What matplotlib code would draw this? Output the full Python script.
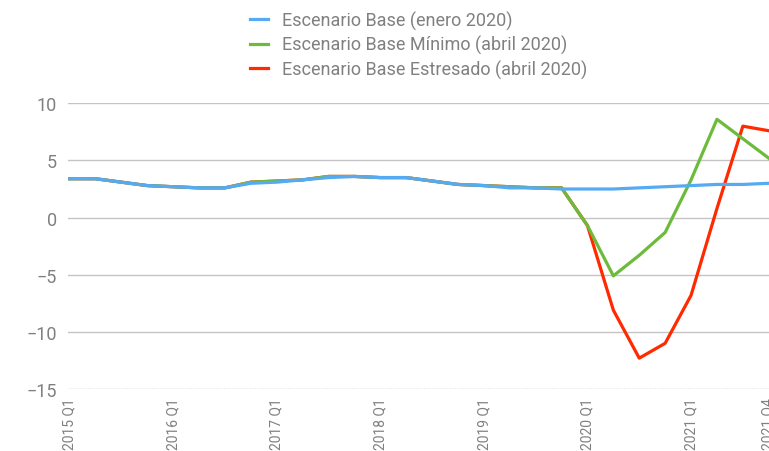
import matplotlib.pyplot as plt
import numpy as np

plt.rcParams['font.family'] = ['Roboto', 'DejaVu Sans']

# trimestres 2015 Q1 .. 2021 Q4
quarters = [f'{y} Q{q}' for y in range(2015, 2022) for q in range(1, 5)]

base_enero = [3.4, 3.4, 3.1, 2.8,
              2.7, 2.6, 2.6, 3.0,
              3.1, 3.3, 3.5, 3.6,
              3.5, 3.5, 3.2, 2.9,
              2.8, 2.6, 2.6, 2.5,
              2.5, 2.5, 2.6, 2.7,
              2.8, 2.9, 2.9, 3.0]
base_minimo = [3.4, 3.4, 3.1, 2.8,
               2.7, 2.6, 2.6, 3.1,
               3.2, 3.3, 3.6, 3.6,
               3.5, 3.5, 3.2, 2.9,
               2.8, 2.7, 2.6, 2.6,
               -0.7, -5.1, -3.3, -1.3,
               3.3, 8.6, 6.9, 5.2]
base_estresado = [3.4, 3.4, 3.1, 2.8,
                  2.7, 2.6, 2.6, 3.1,
                  3.2, 3.3, 3.6, 3.6,
                  3.5, 3.5, 3.2, 2.9,
                  2.8, 2.7, 2.6, 2.6,
                  -0.7, -8.1, -12.3, -11.0,
                  -6.8, 0.8, 8.0, 7.6]

x = np.arange(len(quarters))
gris = '#808080'

fig = plt.figure(figsize=(7.69, 4.52), dpi=100)
ax = fig.add_axes([68.2/769, 62/452, 713.5/769, 285.7/452])

ax.plot(x, base_estresado, color='#FF2A00', lw=2.3, label='Escenario Base Estresado (abril 2020)', zorder=3)
ax.plot(x, base_minimo, color='#6DBB3A', lw=2.3, label='Escenario Base Mínimo (abril 2020)', zorder=3)
ax.plot(x, base_enero, color='#55AAF2', lw=2.3, label='Escenario Base (enero 2020)', zorder=4)

ax.set_xlim(-0.05, 27.5)
ax.set_ylim(-15, 10)
ax.set_yticks([10, 5, 0, -5, -10, -15])
for v in [10, 5, 0, -5, -10]:
    ax.axhline(v, color='#C4C4C4', lw=1, zorder=1)
ax.axhline(-15, color='#999999', lw=1, ls=(0, (1, 1)), zorder=1)

ticks = list(range(0, 28, 4)) + [27]
ax.set_xticks(ticks)
ax.set_xticklabels([quarters[i] for i in ticks], rotation=90, va='top', ha='center')
ax.tick_params(length=0, colors=gris, labelsize=10)
ax.tick_params(axis='y', pad=8, labelsize=13)
ax.tick_params(axis='x', pad=6)
for s in ax.spines.values():
    s.set_visible(False)

h, l = ax.get_legend_handles_labels()
fig.legend(h[::-1], l[::-1], loc='upper center', bbox_to_anchor=(0.544, 1.01),
           frameon=False, fontsize=13, labelcolor=gris, handlelength=1.0,
           handletextpad=0.75, labelspacing=0.3)

fig.savefig('out.png', dpi=100)
